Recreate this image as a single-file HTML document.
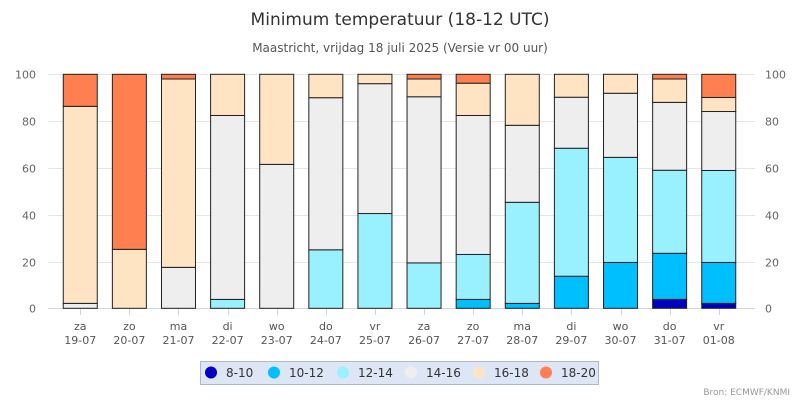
<!DOCTYPE html>
<html><head><meta charset="utf-8">
<style>
html,body{margin:0;padding:0;background:#fff;}
svg{display:block;font-family:"DejaVu Sans","Liberation Sans",sans-serif;}
</style></head>
<body>
<svg id="chart" width="800" height="400" viewBox="0 0 800 400" xmlns="http://www.w3.org/2000/svg">
<rect x="0" y="0" width="800" height="400" fill="#fff"/>
<text x="400" y="25" text-anchor="middle" font-size="17" fill="#333">Minimum temperatuur (18-12 UTC)</text>
<text x="400" y="52" text-anchor="middle" font-size="12" fill="#555">Maastricht, vrijdag 18 juli 2025 (Versie vr 00 uur)</text>
<g id="grid"></g><g id="bars"></g><g id="axes"></g>
<g>
<rect x="200.5" y="361.5" width="398" height="23" fill="#dde6f5" stroke="#b0b8c8"/>
<g id="legend"></g>
</g>
<text x="790" y="395" text-anchor="end" font-size="9" fill="#999">Bron: ECMWF/KNMI</text>
</svg>
<script>
const categories = ["za|19-07","zo|20-07","ma|21-07","di|22-07","wo|23-07","do|24-07","vr|25-07","za|26-07","zo|27-07","ma|28-07","di|29-07","wo|30-07","do|31-07","vr|01-08"];
const seriesNames = ["8-10","10-12","12-14","14-16","16-18","18-20"];
const seriesColors = ["#0000c0","#00bfff","#99f0ff","#eeeeee","#ffe4c4","#ff7f50"];
const s8_10  = [0,0,0,0,0,0,0,0,0,0,0,0,3.8,2.1];
const s10_12 = [0,0,0,0,0,0,0,0,3.8,2.1,13.7,19.6,19.7,17.5];
const s12_14 = [0,0,0,3.8,0,25,40.5,19.4,19.2,43.2,54.7,44.9,35.5,39.3];
const s14_16 = [2.1,0,17.5,78.6,61.5,65,55.5,71,59.4,32.9,21.8,27.4,29,25.2];
const s16_18 = [84.2,25.2,80.5,17.6,38.5,10,4,7.6,13.8,21.8,9.8,8.1,10,6];
const s18_20 = [13.7,74.8,2,0,0,0,0,2,3.8,0,0,0,2,9.9];
const yTicks = [0,20,40,60,80,100];
const series = [s8_10,s10_12,s12_14,s14_16,s16_18,s18_20];

const NS="http://www.w3.org/2000/svg";
const plotL=55.7, plotR=743.3, y0=308.3, y100=74.3;
const step=(plotR-plotL)/categories.length, barW=34;
const yScale=v=>y0-(y0-y100)*v/100;
const xCenter=i=>plotL+step*(i+0.5);
function mk(tag,attrs,parent){const e=document.createElementNS(NS,tag);for(const k in attrs)e.setAttribute(k,attrs[k]);parent.appendChild(e);return e;}
const grid=document.getElementById('grid'), bars=document.getElementById('bars'), axes=document.getElementById('axes'), legend=document.getElementById('legend');
yTicks.forEach(t=>{
  const y=Math.round(yScale(t))+0.5;
  const l=mk('line',{x1:48,x2:755,y1:y,y2:y,stroke:t===0?'#ccd6eb':'#e6e6e6'},grid);
  
  
  const a=mk('text',{x:36,y:y+4,'text-anchor':'end','font-size':11,fill:'#666'},axes);a.textContent=t;
  
  
  const b=mk('text',{x:765,y:y+4,'text-anchor':'start','font-size':11,fill:'#666'},axes);b.textContent=t;
  
  
});
categories.forEach((c,i)=>{
  const cx=xCenter(i);
  let cum=0;
  series.forEach((s,k)=>{
    const v=s[i]; if(v<=0)return;
    const yb=yScale(cum), yt=yScale(cum+v); cum+=v;
    const r=mk('rect',{x:cx-barW/2,y:yt,width:barW,height:yb-yt,fill:seriesColors[k],stroke:'#222','stroke-width':1},bars);
    
    
  });
  const tk=mk('line',{x1:Math.round(cx)+0.5,x2:Math.round(cx)+0.5,y1:309,y2:315,stroke:'#ccd6eb'},axes);
  
  
  const [d,dt]=c.split('|');
  const t=mk('text',{x:cx,y:330,'text-anchor':'middle','font-size':11,fill:'#555'},axes);
  
  
  mk('tspan',{x:cx,dy:0},t).textContent=d;
  mk('tspan',{x:cx,dy:14},t).textContent=dt;
});
const legX=[211,274,343,411,479,546];
seriesNames.forEach((n,k)=>{
  const g=mk('g',{},legend);
  
  
  mk('circle',{cx:legX[k],cy:372.5,r:6,fill:seriesColors[k]},g);
  const t=mk('text',{x:legX[k]+15,y:377,'font-size':12,fill:'#333'},g);t.textContent=n;
});
</script>
</body></html>
